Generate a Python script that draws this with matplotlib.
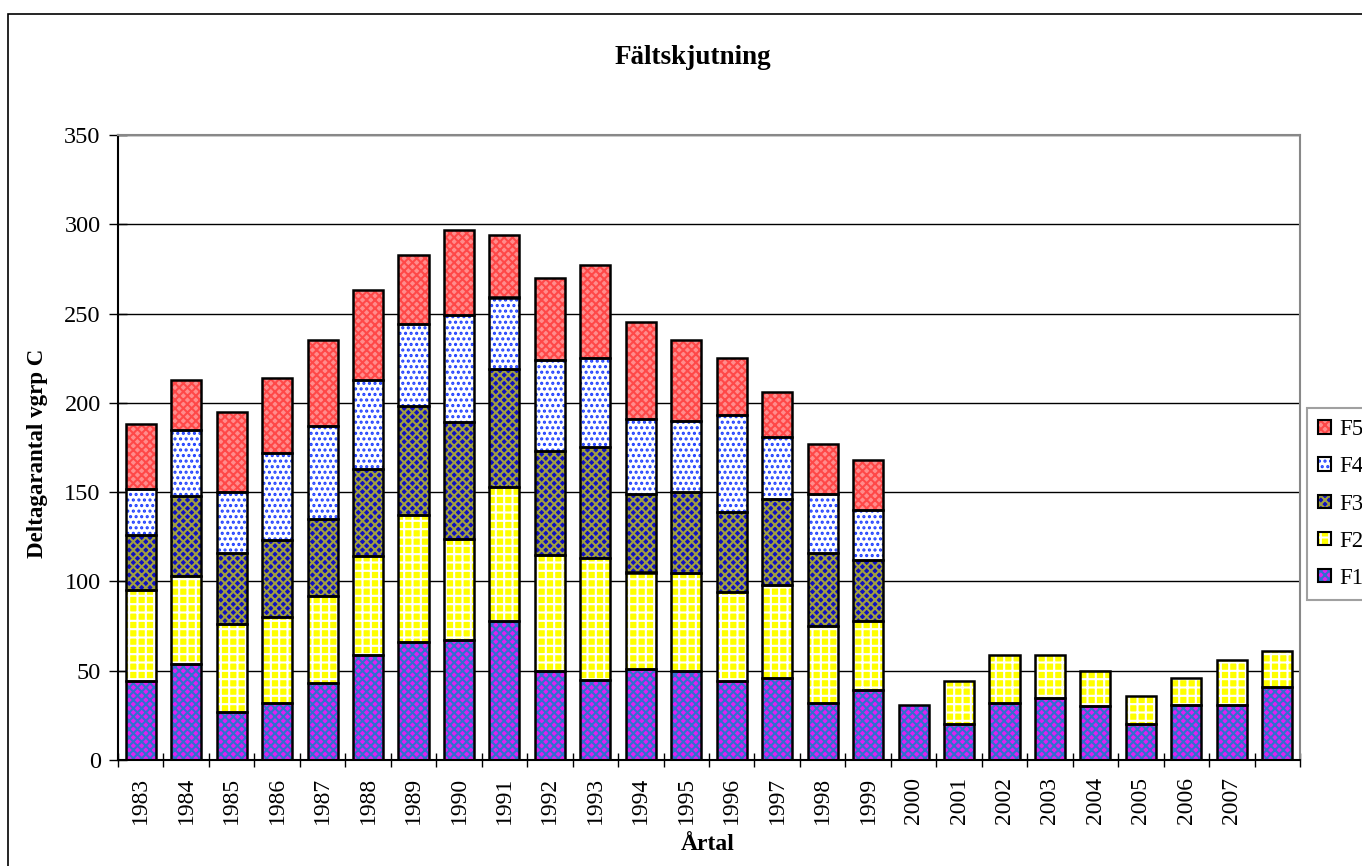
import numpy as np
import matplotlib
matplotlib.use("Agg")
from matplotlib import pyplot as plt
from matplotlib.patches import Patch, Rectangle
from matplotlib.ticker import FixedLocator, NullFormatter, FixedFormatter

years = [str(y) for y in range(1983, 2009)]
year_labels = years[:-1] + ['']  # last bar has no label in the original

f1 = [44, 54, 27, 32, 43, 59, 66, 67, 78, 50, 45, 51, 50, 44, 46, 32, 39,
      31, 20, 32, 35, 30, 20, 31, 31, 41]
f2 = [51, 49, 49, 48, 49, 55, 71, 57, 75, 65, 68, 54, 55, 50, 52, 43, 39,
      0, 24, 27, 24, 20, 16, 15, 25, 20]
f3 = [31, 45, 40, 43, 43, 49, 61, 65, 66, 58, 62, 44, 45, 45, 48, 41, 34,
      0, 0, 0, 0, 0, 0, 0, 0, 0]
f4 = [26, 37, 34, 49, 52, 50, 46, 60, 40, 51, 50, 42, 40, 54, 35, 33, 28,
      0, 0, 0, 0, 0, 0, 0, 0, 0]
f5 = [36, 28, 45, 42, 48, 50, 39, 48, 35, 46, 52, 54, 45, 32, 25, 28, 28,
      0, 0, 0, 0, 0, 0, 0, 0, 0]

series = [f1, f2, f3, f4, f5]
names = ['F1', 'F2', 'F3', 'F4', 'F5']
# (face colour, hatch, hatch colour)
styles = [('#E020F0', 'xxxx', '#3070D0'),
          ('#FFFF00', '++', '#FFFFFF'),
          ('#1010C0', 'xxxx', '#A0A040'),
          ('#FFFFFF', '...', '#2040FF'),
          ('#FF8C8C', 'xxxx', '#FF4848')]

plt.rcParams['font.family'] = ['Liberation Serif', 'DejaVu Serif']
plt.rcParams['hatch.linewidth'] = 1.5

fig = plt.figure(figsize=(13.62, 8.66), dpi=100)
ax = fig.add_axes([118 / 1362, 1 - 760 / 866, (1300 - 118) / 1362, (760 - 135) / 866])

x = np.arange(len(years))
width = 0.66
bottom = np.zeros(len(years))
handles = []
for vals, name, (fc, hatch, hc) in zip(series, names, styles):
    vals = np.array(vals, dtype=float)
    mask = vals > 0
    ax.bar(x[mask], vals[mask], width, bottom=bottom[mask], color=fc,
           hatch=hatch, edgecolor=hc, linewidth=0, zorder=2)
    ax.bar(x[mask], vals[mask], width, bottom=bottom[mask], fill=False,
           edgecolor='black', linewidth=1.8, zorder=3)
    bottom += vals
    handles.append((Patch(facecolor=fc, hatch=hatch, edgecolor=hc, linewidth=0),
                    Patch(fill=False, edgecolor='black', linewidth=1.5)))

ax.set_xlim(-0.5, len(years) - 0.5)
ax.set_ylim(0, 350)
ax.set_yticks(np.arange(0, 351, 50))
ax.yaxis.grid(True, color='black', linewidth=1.0)
ax.set_axisbelow(True)

ax.xaxis.set_major_locator(FixedLocator(np.arange(len(years) + 1) - 0.5))
ax.xaxis.set_major_formatter(NullFormatter())
ax.xaxis.set_minor_locator(FixedLocator(x))
ax.xaxis.set_minor_formatter(FixedFormatter(year_labels))
ax.tick_params(axis='x', which='major', direction='inout', length=10, width=1)
ax.tick_params(axis='x', which='minor', length=0, pad=12, labelsize=17,
               labelrotation=90)
ax.tick_params(axis='y', direction='inout', length=13, width=1, pad=6,
               labelsize=17.5)

for side in ['top', 'right']:
    ax.spines[side].set_color('#888888')
    ax.spines[side].set_linewidth(1.5)
for side in ['left', 'bottom']:
    ax.spines[side].set_color('black')
    ax.spines[side].set_linewidth(1.5)

fig.text(0.5085, 1 - 58 / 866, 'Fältskjutning', ha='center', va='center',
         fontsize=19.5, fontweight='bold')
fig.text(38 / 1362, 1 - 453 / 866, 'Deltagarantal vgrp C', ha='center',
         va='center', rotation=90, fontsize=16.5, fontweight='bold')
fig.text(708 / 1362, 1 - 845 / 866, 'Årtal', ha='center', va='center',
         fontsize=17, fontweight='bold')

leg = fig.legend(handles[::-1], names[::-1], loc='upper left',
                 bbox_to_anchor=(1307 / 1362, 1 - 408 / 866),
                 fontsize=16.5, frameon=True, fancybox=False,
                 handlelength=0.55, handleheight=0.55, handletextpad=0.35,
                 labelspacing=0.7, borderpad=0.5, borderaxespad=0)
leg.get_frame().set_edgecolor('#888888')
leg.get_frame().set_linewidth(1.5)

# outer chart border
fig.patches.append(Rectangle((8 / 1362, -0.05), 1.0, 1 - 14 / 866 + 0.05,
                             transform=fig.transFigure, fill=False,
                             edgecolor='black', linewidth=1.2))

fig.savefig('out.png', dpi=100)
